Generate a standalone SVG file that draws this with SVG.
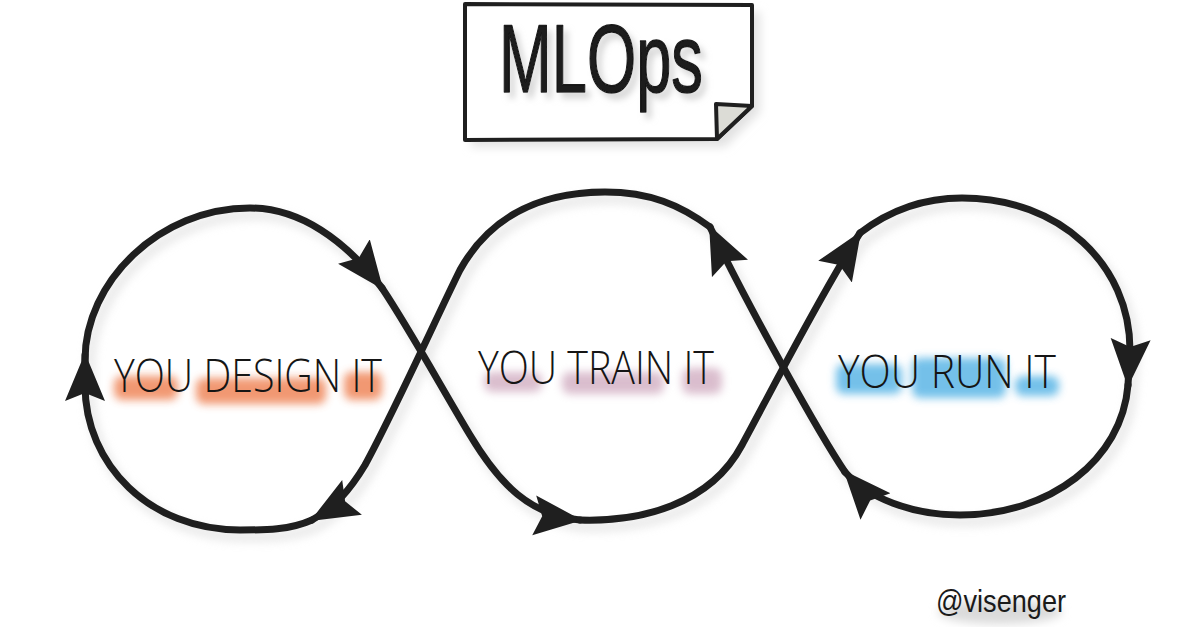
<svg xmlns="http://www.w3.org/2000/svg" width="1200" height="630" viewBox="0 0 1200 630">
  <style>
    .loop { fill: none; stroke: #1f1f1f; stroke-width: 7; stroke-linecap: round; stroke-linejoin: round; }
    .shadow { fill: none; stroke: #d8d8d8; stroke-width: 9; stroke-linecap: round; }
    .label { font-family: "Open Sans", "Liberation Sans", sans-serif; font-weight: 300; font-size: 46px; fill: #151515; }
    .hand { font-family: "Liberation Sans", "DejaVu Sans", sans-serif; fill: #1a1a1a; }
  </style>
  <defs>
    <marker id="arrow" markerUnits="userSpaceOnUse" markerWidth="48" markerHeight="42" viewBox="0 0 48 42" refX="46" refY="21" orient="auto">
      <path d="M0,1 L48,21 L0,41 L8,21 Z" fill="#1f1f1f"/>
    </marker>
    <filter id="blur" x="-20%" y="-50%" width="140%" height="200%">
      <feGaussianBlur stdDeviation="4"/>
    </filter>
    <filter id="soft" x="-10%" y="-10%" width="120%" height="120%">
      <feGaussianBlur stdDeviation="5"/>
    </filter>
    <filter id="drop" x="-10%" y="-20%" width="130%" height="150%">
      <feDropShadow dx="5" dy="6" stdDeviation="3" flood-color="#bdbdbd" flood-opacity="0.6"/>
    </filter>
  </defs>

  <rect width="1200" height="630" fill="#ffffff"/>

  <!-- title -->
  <g id="title">
    <path d="M471,12 L760,12 L760,112 L725,147 L471,147 Z" fill="#e2e2e2" filter="url(#soft)"/>
    <path d="M465,4 L752,5 L752,106 L717,139 L465,140 Z" fill="#ffffff" stroke="#1f1f1f" stroke-width="4" stroke-linejoin="round"/>
    <path d="M716,104 L752,106 L717,139 Z" fill="#dcdcd6" stroke="#1f1f1f" stroke-width="4" stroke-linejoin="round"/>
    <text x="499" y="92" class="hand" font-size="96" stroke="#1a1a1a" stroke-width="1.5" stroke-linejoin="round" textLength="204" lengthAdjust="spacingAndGlyphs" filter="url(#drop)">MLOps</text>
  </g>

  <!-- connectors -->
  <g id="connectors">
    <g filter="url(#soft)" opacity="0.6" transform="translate(5,7)">
      <path class="shadow" d="M85,360 C85,282 159,208 250,208 C300,208 345,240 380,285 C410,330 440,385 470,435 C500,485 530,515 578,520 C640,522 710,505 742,445 C765,403 820,295 858,236 C890,210 925,198 962,198 C1060,198 1130,265 1130,350 L1127,385 C1122,460 1050,515 960,515 C912,515 868,498 845,472 C820,435 750,310 710,227 C680,205 650,192 605,192 C530,192 485,225 460,270 C440,310 395,410 365,465 C350,490 335,507 312,520 C290,530 265,530 240,530 C150,530 85,465 85,385 Z"/>
    </g>
    <path id="c1" class="loop" marker-end="url(#arrow)" d="M85,360 C85,282 159,208 250,208 C300,208 345,240 382,288"/>
    <path id="c2" class="loop" marker-end="url(#arrow)" d="M382,288 C410,330 440,385 470,435 C500,485 530,515 580,520"/>
    <path id="c3" class="loop" marker-end="url(#arrow)" d="M580,520 C640,522 710,505 742,445 C765,403 820,295 860,233"/>
    <path id="c4" class="loop" marker-end="url(#arrow)" d="M860,233 C890,210 925,198 962,198 C1060,198 1130,265 1130,350 L1128,385"/>
    <path id="c5" class="loop" marker-end="url(#arrow)" d="M1128,385 C1122,460 1050,515 960,515 C912,515 868,498 845,472"/>
    <path id="c6" class="loop" marker-end="url(#arrow)" d="M845,472 C820,435 750,310 710,227"/>
    <path id="c7" class="loop" marker-end="url(#arrow)" d="M710,227 C680,205 650,192 605,192 C530,192 485,225 460,270 C440,310 395,410 365,465 C350,490 335,507 312,520"/>
    <path id="c8" class="loop" marker-end="url(#arrow)" d="M312,520 C290,530 265,530 240,530 C150,530 85,465 85,385 L85,355"/>
  </g>

  <!-- nodes -->
  <g id="design">
    <g filter="url(#blur)" fill="#ee7f4f" opacity="0.8">
      <rect x="114" y="376" width="64" height="24" rx="8"/>
      <rect x="196" y="378" width="130" height="26" rx="8"/>
      <rect x="344" y="372" width="38" height="28" rx="8"/>
    </g>
    <text class="label" x="114" y="392" textLength="268" lengthAdjust="spacingAndGlyphs">YOU DESIGN IT</text>
  </g>

  <g id="train">
    <g filter="url(#blur)" fill="#c79bb4" opacity="0.65">
      <rect x="484" y="372" width="58" height="20" rx="8"/>
      <rect x="562" y="372" width="102" height="22" rx="8"/>
      <rect x="682" y="368" width="40" height="26" rx="8"/>
    </g>
    <text class="label" x="478" y="384" textLength="236" lengthAdjust="spacingAndGlyphs">YOU TRAIN IT</text>
  </g>

  <g id="run">
    <g filter="url(#blur)" fill="#5bb6e6" opacity="0.85">
      <rect x="836" y="364" width="66" height="30" rx="8"/>
      <rect x="912" y="358" width="94" height="40" rx="8"/>
      <rect x="1015" y="376" width="44" height="20" rx="8"/>
    </g>
    <text class="label" x="838" y="388" textLength="218" lengthAdjust="spacingAndGlyphs">YOU RUN IT</text>
  </g>

  <g id="credit">
    <ellipse cx="1000" cy="612" rx="62" ry="12" fill="#dadada" filter="url(#soft)"/>
    <text class="hand" x="936" y="612" font-size="32" textLength="130" lengthAdjust="spacingAndGlyphs">@visenger</text>
  </g>
</svg>
